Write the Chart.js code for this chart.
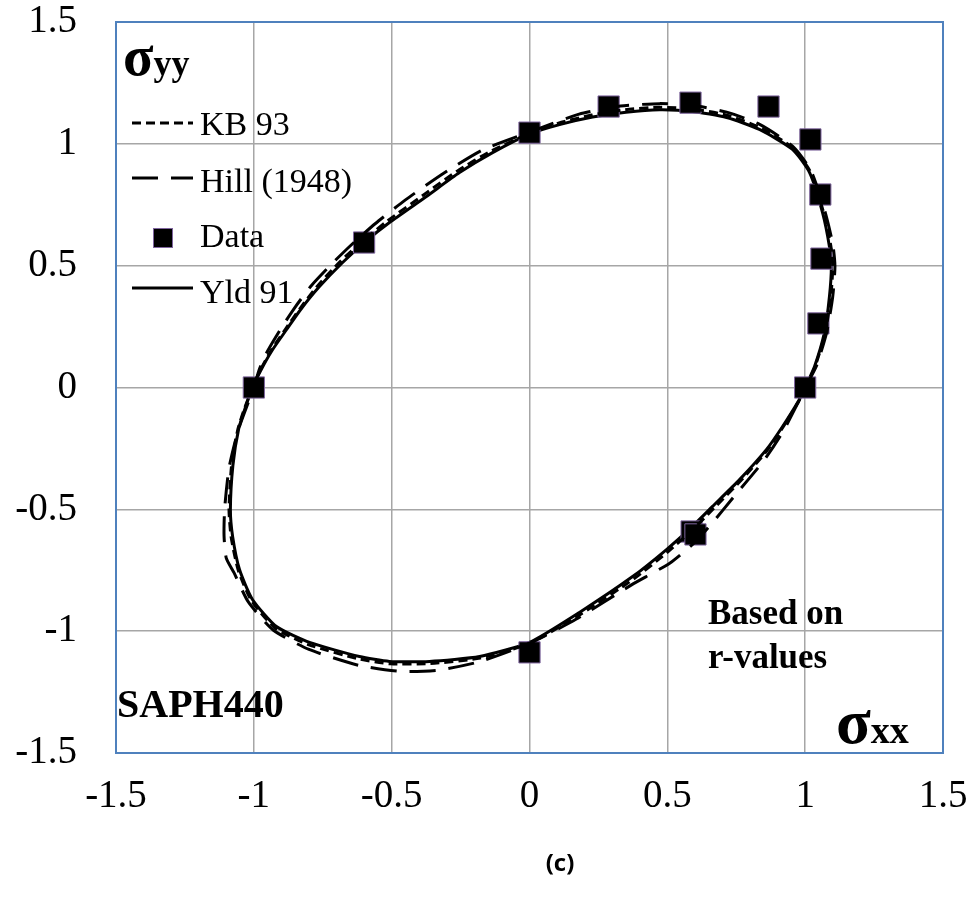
<!DOCTYPE html>
<html>
<head>
<meta charset="utf-8">
<script src="https://cdn.jsdelivr.net/npm/chart.js@4.4.1/dist/chart.umd.min.js"></script>
<style>
  html, body { margin: 0; padding: 0; background: #fff; }
  #wrap { width: 973px; height: 909px; }
</style>
</head>
<body>
<div id="wrap"><canvas id="locus" width="973" height="909"></canvas></div>
<script>
(function () {
    "use strict";

    // axis ticks
    var xTicks = [-1.5, -1, -0.5, 0, 0.5, 1, 1.5];
    var yTicks = [-1.5, -1, -0.5, 0, 0.5, 1, 1.5];

    // measured normalised yield stresses
    var dataX = [-1.0, -0.6, 0.0, 0.287, 0.584, 0.867, 1.019, 1.055, 1.059, 1.048, 1.0, 0.588, 0.602, 0.0];
    var dataY = [0.0, 0.595, 1.046, 1.153, 1.169, 1.153, 1.018, 0.792, 0.529, 0.263, 0.0, -0.591, -0.603, -1.087];

    // Yld 91 locus
    var yldX = [1.000, 1.034, 1.070, 1.088, 1.095, 1.088, 1.063, 1.016, 0.954, 0.834, 0.715, 0.591, 0.472, 0.350,
        0.229, 0.109, 0.000, -0.134, -0.254, -0.374, -0.508, -0.595, -0.678, -0.762, -0.830, -0.881, -0.935, -0.975,
        -1.005, -1.030, -1.055, -1.076, -1.085, -1.077, -1.052, -1.005, -0.918, -0.798, -0.617, -0.508, -0.363,
        -0.181, 0.000, 0.181, 0.374, 0.497, 0.591, 0.664, 0.762, 0.860, 0.918, 0.979, 1.000];
    var yldY = [0.000, 0.086, 0.226, 0.373, 0.497, 0.579, 0.718, 0.882, 0.977, 1.059, 1.108, 1.133, 1.140, 1.130,
        1.110, 1.079, 1.040, 0.964, 0.882, 0.784, 0.677, 0.599, 0.513, 0.414, 0.320, 0.238, 0.150, 0.070,
        0.000, -0.080, -0.170, -0.320, -0.501, -0.611, -0.747, -0.870, -0.981, -1.046, -1.104, -1.124, -1.124,
        -1.104, -1.046, -0.923, -0.776, -0.665, -0.570, -0.488, -0.378, -0.254, -0.160, -0.049, 0.000];

    // KB 93 locus
    var kbX = [1.000, 1.036, 1.073, 1.093, 1.100, 1.093, 1.066, 1.018, 0.955, 0.834, 0.715, 0.591, 0.472, 0.345,
        0.225, 0.105, 0.000, -0.140, -0.260, -0.382, -0.515, -0.602, -0.686, -0.768, -0.834, -0.885, -0.938, -0.977,
        -1.004, -1.032, -1.058, -1.081, -1.090, -1.082, -1.056, -1.008, -0.921, -0.800, -0.618, -0.505, -0.360,
        -0.178, 0.000, 0.186, 0.380, 0.503, 0.597, 0.670, 0.767, 0.863, 0.920, 0.980, 1.000];
    var kbY = [0.000, 0.086, 0.226, 0.373, 0.497, 0.582, 0.722, 0.887, 0.984, 1.068, 1.118, 1.143, 1.150, 1.140,
        1.118, 1.085, 1.043, 0.970, 0.890, 0.792, 0.684, 0.604, 0.518, 0.418, 0.322, 0.240, 0.151, 0.070,
        0.000, -0.080, -0.172, -0.322, -0.503, -0.616, -0.752, -0.876, -0.989, -1.056, -1.114, -1.134, -1.133,
        -1.110, -1.050, -0.930, -0.784, -0.673, -0.578, -0.494, -0.382, -0.257, -0.162, -0.050, 0.000];

    // Hill (1948) locus
    var hillX = [1.000, 1.040, 1.078, 1.100, 1.108, 1.100, 1.070, 1.020, 0.955, 0.835, 0.715, 0.590, 0.472, 0.330,
        0.180, 0.000, -0.170, -0.310, -0.450, -0.560, -0.640, -0.715, -0.790, -0.850, -0.900, -0.950, -0.980, -1.000,
        -1.028, -1.058, -1.090, -1.106, -1.108, -1.100, -1.072, -1.020, -0.930, -0.800, -0.620, -0.470, -0.330,
        -0.180, 0.000, 0.170, 0.370, 0.510, 0.600, 0.660, 0.740, 0.850, 0.920, 0.975, 1.000];
    var hillY = [0.000, 0.086, 0.226, 0.373, 0.497, 0.590, 0.730, 0.892, 0.990, 1.080, 1.130, 1.158, 1.165, 1.155,
        1.122, 1.048, 0.975, 0.880, 0.770, 0.672, 0.592, 0.510, 0.420, 0.330, 0.245, 0.150, 0.075, 0.000,
        -0.085, -0.180, -0.330, -0.500, -0.610, -0.700, -0.760, -0.880, -0.995, -1.075, -1.140, -1.165, -1.160,
        -1.125, -1.050, -0.950, -0.810, -0.720, -0.635, -0.560, -0.450, -0.300, -0.180, -0.060, 0.000];

    function pairs(xs, ys) {
        return xs.map(function (x, i) { return { x: x, y: ys[i] }; });
    }

    var serif = "'Liberation Serif', 'Times New Roman', serif";

    function curve(label, xs, ys, dash) {
        return {
            label: label,
            data: pairs(xs, ys),
            showLine: true,
            fill: false,
            borderColor: "#000",
            borderWidth: 3,
            borderDash: dash,
            tension: 0.2,
            pointRadius: 0,
            pointHoverRadius: 0
        };
    }

    // plot frame, in-plot legend and the labels
    var decor = {
        id: "decor",
        beforeDatasetsDraw: function (chart) {
            var a = chart.chartArea, c = chart.ctx;
            c.save();
            c.strokeStyle = "#4f81bd";
            c.lineWidth = 2;
            c.strokeRect(a.left, a.top, a.right - a.left, a.bottom - a.top);
            c.restore();
        },
        afterDraw: function (chart) {
            var a = chart.chartArea, c = chart.ctx, ds = chart.data.datasets;
            c.save();
            c.fillStyle = "#000";
            c.textBaseline = "alphabetic";

            // σyy
            c.font = "bold 56px " + serif;
            c.fillText("σ", a.left + 7, 75);
            var w = c.measureText("σ").width;
            c.font = "bold 36px " + serif;
            c.fillText("yy", a.left + 7 + w, 75);

            // legend
            var order = [0, 1, 2, 3];
            var lineY = [123, 178, 238, 288];
            var textY = [135, 192, 247, 303];
            c.font = "34px " + serif;
            order.forEach(function (k, i) {
                var d = ds[k];
                if (d.showLine) {
                    c.save();
                    c.strokeStyle = "#000";
                    c.lineWidth = 3;
                    c.setLineDash(d.borderDash || []);
                    c.beginPath();
                    c.moveTo(a.left + 16, lineY[i]);
                    c.lineTo(a.left + 77, lineY[i]);
                    c.stroke();
                    c.restore();
                } else {
                    c.fillStyle = "#000";
                    c.strokeStyle = d.pointBorderColor;
                    c.lineWidth = 1;
                    c.fillRect(a.left + 37, lineY[i] - 10, 20, 20);
                    c.strokeRect(a.left + 37.5, lineY[i] - 9.5, 19, 19);
                }
                c.fillStyle = "#000";
                c.fillText(d.label, a.left + 84, textY[i]);
            });

            // material and basis notes
            c.font = "bold 40px " + serif;
            c.fillText("SAPH440", a.left + 1, 717);
            c.font = "bold 35px " + serif;
            c.fillText("Based on", 708, 624);
            c.fillText("r-values", 708, 668);

            // σxx
            c.font = "bold 64px " + serif;
            c.fillText("σ", 836, 743);
            w = c.measureText("σ").width;
            c.font = "bold 38px " + serif;
            c.fillText("xx", 836 + w, 743);

            // panel tag
            c.font = "bold 24px 'Open Sans', 'Noto Sans', sans-serif";
            c.textAlign = "center";
            c.fillText("(c)", 560, 871);
            c.restore();
        }
    };

    function plainTick(v) { return String(v); }

    var ctx = document.getElementById("locus");
    var chart = new Chart(ctx, {
        type: "scatter",
        data: {
            datasets: [
                curve("KB 93", kbX, kbY, [9, 5]),
                curve("Hill (1948)", hillX, hillY, [26, 13]),
                {
                    label: "Data",
                    data: pairs(dataX, dataY),
                    showLine: false,
                    pointStyle: "rect",
                    pointRadius: 15,
                    pointHoverRadius: 15,
                    pointBackgroundColor: "#000",
                    pointBorderColor: "#7f659f",
                    pointBorderWidth: 1
                },
                curve("Yld 91", yldX, yldY, [])
            ]
        },
        options: {
            responsive: false,
            animation: false,
            devicePixelRatio: 1,
            layout: { padding: { top: 22, right: 30, left: 0, bottom: 0 } },
            plugins: {
                legend: { display: false },
                tooltip: { enabled: false }
            },
            scales: {
                x: {
                    type: "linear",
                    min: -1.5,
                    max: 1.5,
                    afterBuildTicks: function (s) {
                        s.ticks = xTicks.map(function (v) { return { value: v }; });
                    },
                    afterFit: function (s) {
                        s.height = 156;
                        s.paddingLeft = 0;
                        s.paddingRight = 0;
                    },
                    border: { display: false },
                    grid: { color: "#a6a6a6", lineWidth: 1.5, drawTicks: false },
                    ticks: {
                        color: "#000",
                        padding: 20,
                        maxRotation: 0,
                        callback: plainTick,
                        font: { family: serif, size: 39 }
                    }
                },
                y: {
                    type: "linear",
                    min: -1.5,
                    max: 1.5,
                    afterBuildTicks: function (s) {
                        s.ticks = yTicks.map(function (v) { return { value: v }; });
                    },
                    afterFit: function (s) {
                        s.width = 116;
                        s.paddingTop = 0;
                        s.paddingBottom = 0;
                    },
                    border: { display: false },
                    grid: { color: "#a6a6a6", lineWidth: 1.5, drawTicks: false },
                    ticks: {
                        color: "#000",
                        padding: 39,
                        callback: plainTick,
                        font: { family: serif, size: 39 }
                    }
                }
            }
        },
        plugins: [decor]
    });
})();
</script>
</body>
</html>
